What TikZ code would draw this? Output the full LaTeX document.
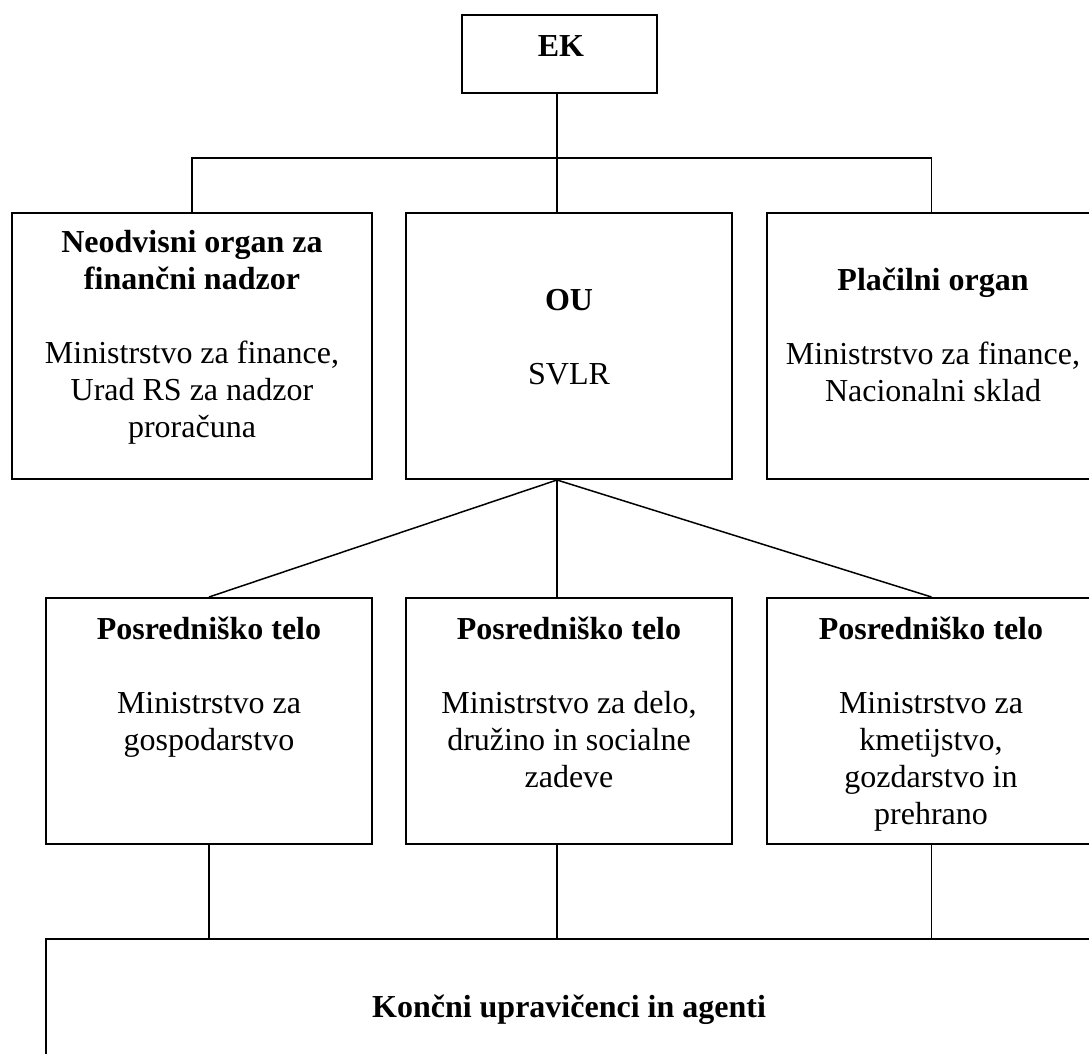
\documentclass[tikz,border=0pt]{standalone}
\usepackage{fontspec}
\setmainfont{Liberation Serif}
\begin{document}
\begin{tikzpicture}[x=1pt, y=-1pt,
  box/.style={draw, line width=2pt, inner sep=0pt},
  boxtext/.style={inner sep=0pt, anchor=north, align=center, font=\fontsize{32}{37}\selectfont},
  link/.style={line width=1.5pt}]
  % Page frame
  \useasboundingbox (0,0) rectangle (1089,1054);
  \clip (0,0) rectangle (1089,1054);

  % Draw the boxes
  \node[box, minimum width=195pt, minimum height=78pt] (ek) at (559.5,54) {};
  \node[box, minimum width=360pt, minimum height=266pt] (nfn) at (192,346) {};
  \node[box, minimum width=326pt, minimum height=266pt] (ou) at (569,346) {};
  \node[box, minimum width=329pt, minimum height=266pt] (po) at (931.5,346) {};
  \node[box, minimum width=326pt, minimum height=246pt] (pt1) at (209,721) {};
  \node[box, minimum width=326pt, minimum height=246pt] (pt2) at (569,721) {};
  \node[box, minimum width=329pt, minimum height=246pt] (pt3) at (931.5,721) {};
  \node[box, minimum width=1050pt, minimum height=141pt] (kon) at (571,1009.5) {};

  % Write the texts
  \node[boxtext] (ektxt) at (561,30) {\strut\textbf{EK}};
  \node[boxtext] (nfntxt) at (192,226) {\strut\textbf{Neodvisni organ za}\\\textbf{finančni nadzor}\\[37pt]
    Ministrstvo za finance,\\Urad RS za nadzor\\proračuna};
  \node[boxtext] (outxt) at (569,284) {\strut\textbf{OU}\\[37pt]SVLR};
  \node[boxtext] (potxt) at (933,264) {\strut\textbf{Plačilni organ}\\[37pt]
    Ministrstvo za finance,\\Nacionalni sklad};
  \node[boxtext] (pt1txt) at (209,613) {\strut\textbf{Posredniško telo}\\[37pt]
    Ministrstvo za\\gospodarstvo};
  \node[boxtext] (pt2txt) at (569,613) {\strut\textbf{Posredniško telo}\\[37pt]
    Ministrstvo za delo,\\družino in socialne\\zadeve};
  \node[boxtext] (pt3txt) at (931,613) {\strut\textbf{Posredniško telo}\\[37pt]
    Ministrstvo za\\kmetijstvo,\\gozdarstvo in\\prehrano};
  \node[boxtext] (kontxt) at (569,991) {\strut\textbf{Končni upravičenci in agenti}};

  % Draw the connectors
  \coordinate (spine) at (557,158);
  \draw[link] (ek.south -| spine) -- (ou.north -| spine);
  \draw[link] (nfn.north) |- (spine) -| (po.north);
  \draw[link] (ou.south -| spine) -- (pt1.north);
  \draw[link] (ou.south -| spine) -- (pt2.north -| spine);
  \draw[link] (ou.south -| spine) -- (pt3.north);
  \draw[link] (pt1.south) -- (pt1.south |- kon.north);
  \draw[link] (pt2.south -| spine) -- (kon.north -| spine);
  \draw[link] (pt3.south) -- (pt3.south |- kon.north);
\end{tikzpicture}
\end{document}
